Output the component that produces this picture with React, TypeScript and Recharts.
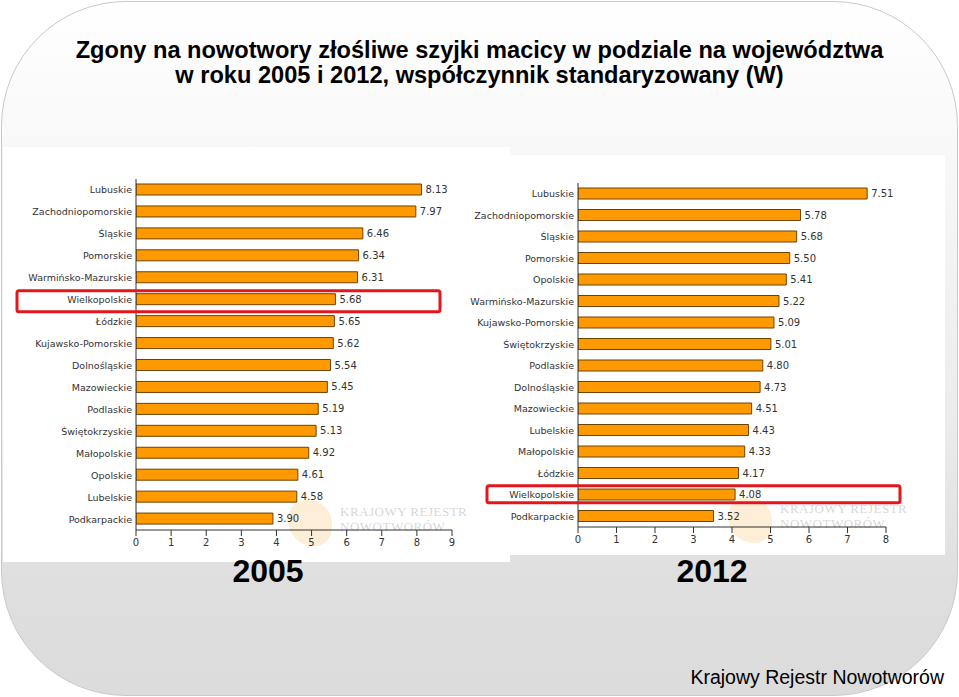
import { BarChart, Bar, XAxis, YAxis, LabelList } from "recharts";

const regions2005 = [
  "Lubuskie", "Zachodniopomorskie", "Śląskie", "Pomorskie", "Warmińsko-Mazurskie",
  "Wielkopolskie", "Łódzkie", "Kujawsko-Pomorskie", "Dolnośląskie", "Mazowieckie",
  "Podlaskie", "Świętokrzyskie", "Małopolskie", "Opolskie", "Lubelskie", "Podkarpackie",
];
const values2005 = [8.13, 7.97, 6.46, 6.34, 6.31, 5.68, 5.65, 5.62, 5.54, 5.45, 5.19, 5.13, 4.92, 4.61, 4.58, 3.9];

const regions2012 = [
  "Lubuskie", "Zachodniopomorskie", "Śląskie", "Pomorskie", "Opolskie",
  "Warmińsko-Mazurskie", "Kujawsko-Pomorskie", "Świętokrzyskie", "Podlaskie", "Dolnośląskie",
  "Mazowieckie", "Lubelskie", "Małopolskie", "Łódzkie", "Wielkopolskie", "Podkarpackie",
];
const values2012 = [7.51, 5.78, 5.68, 5.5, 5.41, 5.22, 5.09, 5.01, 4.8, 4.73, 4.51, 4.43, 4.33, 4.17, 4.08, 3.52];

const ticks2005 = [0, 1, 2, 3, 4, 5, 6, 7, 8, 9];
const ticks2012 = [0, 1, 2, 3, 4, 5, 6, 7, 8];
const highlighted = "Wielkopolskie";

const rows2005 = regions2005.map((r, i) => ({ region: r, value: values2005[i] }));
const rows2012 = regions2012.map((r, i) => ({ region: r, value: values2012[i] }));

const FONT = "'DejaVu Sans', Verdana, sans-serif";

// y-axis label; the highlighted region also gets the red frame
function RegionTick(props: any) {
  const { x, y, payload, boxLeft, boxWidth, boxTop, boxHeight } = props;
  return (
    <g>
      {payload.value === highlighted && (
        <rect
          x={x + boxLeft}
          y={y + boxTop}
          width={boxWidth}
          height={boxHeight}
          fill="none"
          stroke="#e3161b"
          strokeWidth={3}
          rx={2}
        />
      )}
      <text x={x} y={y} dy={3.5} textAnchor="end" fontSize={9.5} fill="#333" fontFamily={FONT}>
        {payload.value}
      </text>
    </g>
  );
}

function Watermark({ left, top }: any) {
  return (
    <div style={{ position: "absolute", left, top, width: 200, height: 50, pointerEvents: "none" }}>
      <div
        style={{
          position: "absolute",
          left: 0,
          top: 0,
          width: 44,
          height: 46,
          borderRadius: "45% 55% 40% 60%",
          background: "rgba(250, 205, 140, 0.35)",
        }}
      />
      <div
        style={{
          position: "absolute",
          left: 52,
          top: 4,
          fontFamily: "'Liberation Serif', serif",
          fontSize: 13,
          letterSpacing: 0.5,
          color: "rgba(150,150,150,0.4)",
          lineHeight: "15px",
          whiteSpace: "nowrap",
        }}
      >
        KRAJOWY REJESTR
        <br />
        NOWOTWORÓW
      </div>
    </div>
  );
}

function RegionChart({ data, ticks, width, height, yWidth, margin, xHeight, box }: any) {
  return (
    <BarChart layout="vertical" width={width} height={height} data={data} margin={margin} barSize={11}>
      <XAxis
        type="number"
        domain={[0, ticks[ticks.length - 1]]}
        ticks={ticks}
        height={xHeight}
        stroke="#333"
        tickSize={6}
        tickMargin={3}
        tick={{ fontSize: 10, fill: "#333", fontFamily: FONT }}
        allowDataOverflow
      />
      <YAxis
        type="category"
        dataKey="region"
        width={yWidth}
        stroke="#333"
        tickLine={false}
        tickSize={2}
        tickMargin={2}
        interval={0}
        tick={(p: any) => <RegionTick {...p} {...box} />}
      />
      <Bar dataKey="value" fill="#ff9900" stroke="#6e4300" strokeWidth={1} isAnimationActive={false}>
        <LabelList
          dataKey="value"
          position="right"
          offset={4}
          fontSize={10}
          fill="#333"
          fontFamily={FONT}
          formatter={(v: any) => Number(v).toFixed(2)}
        />
      </Bar>
    </BarChart>
  );
}

const yearStyle: any = {
  position: "absolute",
  top: 553,
  width: 200,
  textAlign: "center",
  fontFamily: "'Liberation Sans', Arial, sans-serif",
  fontWeight: "bold",
  fontSize: 32,
};

export default function App() {
  return (
    <div style={{ position: "absolute", left: 0, top: 0, width: 959, height: 697, background: "#fff", overflow: "hidden" }}>
      <div
        style={{
          position: "absolute",
          left: 1,
          top: 1,
          width: 955,
          height: 693,
          border: "1px solid #c9c9c9",
          borderRadius: 125,
          background: "linear-gradient(#ffffff 0%, #f9f9f9 18%, #ececec 60%, #dedede 85%, #dcdcdc 100%)",
        }}
      />
      <div
        style={{
          position: "absolute",
          left: 0,
          top: 38,
          width: 959,
          textAlign: "center",
          fontFamily: "'Liberation Sans', Arial, sans-serif",
          fontWeight: "bold",
          fontSize: 23.6,
          lineHeight: "25px",
          color: "#000",
        }}
      >
        Zgony na nowotwory złośliwe szyjki macicy w podziale na województwa
        <br />
        w roku 2005 i 2012, współczynnik standaryzowany (W)
      </div>

      <div style={{ position: "absolute", left: 3, top: 147, width: 507, height: 415, background: "#fff" }} />
      <div style={{ position: "absolute", left: 510, top: 155, width: 435, height: 400, background: "#fff" }} />

      <Watermark left={288} top={500} />
      <Watermark left={728} top={497} />

      <div style={{ position: "absolute", left: 3, top: 147 }}>
        <RegionChart
          data={rows2005}
          ticks={ticks2005}
          width={507}
          height={415}
          yWidth={133}
          xHeight={30}
          margin={{ top: 32, right: 58, bottom: 2, left: 0 }}
          box={{ boxLeft: -115, boxWidth: 423, boxTop: -9, boxHeight: 21 }}
        />
      </div>
      <div style={{ position: "absolute", left: 460, top: 155 }}>
        <RegionChart
          data={rows2012}
          ticks={ticks2012}
          width={485}
          height={400}
          yWidth={118}
          xHeight={26}
          margin={{ top: 28, right: 59, bottom: 2, left: 0 }}
          box={{ boxLeft: -87, boxWidth: 413, boxTop: -9, boxHeight: 17 }}
        />
      </div>

      <div style={{ ...yearStyle, left: 168 }}>2005</div>
      <div style={{ ...yearStyle, left: 612 }}>2012</div>
      <div
        style={{
          position: "absolute",
          right: 15,
          top: 666,
          fontFamily: "'Liberation Sans', Arial, sans-serif",
          fontSize: 19.5,
          color: "#000",
        }}
      >
        Krajowy Rejestr Nowotworów
      </div>
    </div>
  );
}
